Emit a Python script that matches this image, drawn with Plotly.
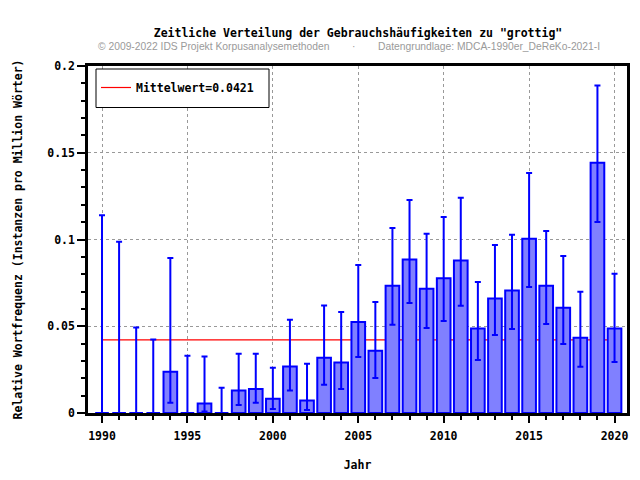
import plotly.graph_objects as go

years = list(range(1990, 2021))
freq = [0, 0, 0, 0, 0.0238, 0, 0.0055, 0, 0.0129, 0.0139, 0.0082, 0.0268, 0.0072,
        0.0319, 0.0291, 0.0525, 0.0359, 0.0733, 0.0885, 0.0716, 0.0777, 0.0879,
        0.0487, 0.0660, 0.0706, 0.1005, 0.0734, 0.0607, 0.0434, 0.1443, 0.0487]
upper = [0.1140, 0.0987, 0.0493, 0.0423, 0.0894, 0.0330, 0.0325, 0.0146, 0.0342,
         0.0342, 0.0261, 0.0537, 0.0284, 0.0619, 0.0582, 0.0853, 0.0640, 0.1066,
         0.1228, 0.1033, 0.1130, 0.1240, 0.0755, 0.0968, 0.1028, 0.1383, 0.1049,
         0.0905, 0.0699, 0.1887, 0.0803]
lower = [0, 0, 0, 0, 0.0059, 0, 0.0008, 0, 0.0046, 0.0059, 0.0023, 0.0129, 0.0018,
         0.0163, 0.0138, 0.0323, 0.0202, 0.0508, 0.0634, 0.0490, 0.0530, 0.0618,
         0.0305, 0.0450, 0.0484, 0.0726, 0.0513, 0.0398, 0.0267, 0.1101, 0.0294]
mean_value = 0.0421
x_ticks = [1990, 1995, 2000, 2005, 2010, 2015, 2020]
y_ticks = [0, 0.05, 0.1, 0.15, 0.2]
y_tick_labels = ["0", "0.05", "0.1", "0.15", "0.2"]

title_text = 'Zeitliche Verteilung der Gebrauchshäufigkeiten zu "grottig"'
sub_left = "© 2009-2022 IDS Projekt Korpusanalysemethoden"
sub_mid = "·"
sub_right = "Datengrundlage: MDCA-1990er_DeReKo-2021-I"

MONO = "DejaVu Sans Mono"
FS = 11.5
SUB_FONT = dict(family="Liberation Sans", size=10.3, color="#9a9a9a")

# plot area geometry (pixels)
L, R, T, B = 88, 13, 66, 67
PW, PH = 640 - L - R, 480 - T - B


def px(xp):
    return (xp - L) / PW


def py(yp):
    return (480 - B - yp) / PH


err_plus = [u - f for u, f in zip(upper, freq)]
err_minus = [f - l for f, l in zip(freq, lower)]

fig = go.Figure()
fig.add_trace(go.Bar(
    x=years, y=freq, width=0.8,
    marker=dict(color="#8080ff", line=dict(color="#0000ff", width=2)),
    error_y=dict(type="data", symmetric=False, array=err_plus, arrayminus=err_minus,
                 color="#0000ff", thickness=2, width=3),
    showlegend=False,
))

fig.add_shape(type="line", x0=years[0], x1=years[-1], y0=mean_value, y1=mean_value,
              xref="x", yref="y", layer="below",
              line=dict(color="#ff0000", width=1.2),
              showlegend=True, name="<b>Mittelwert=%.4f</b>" % mean_value)

# legend frame
fig.add_shape(type="rect", xref="paper", yref="paper",
              x0=px(96), x1=px(269), y0=py(107.5), y1=py(69),
              line=dict(color="black", width=1), fillcolor="white", layer="above")

fig.update_layout(
    width=640, height=480,
    margin=dict(l=L, r=R, t=T, b=B),
    paper_bgcolor="white", plot_bgcolor="white",
    font=dict(family=MONO, size=FS, color="black"),
    showlegend=True,
    legend=dict(x=px(96), y=py(87.5), xanchor="left", yanchor="middle",
                borderwidth=0, bgcolor="rgba(0,0,0,0)",
                font=dict(family=MONO, size=FS, color="black")),
    title=dict(text="<b>" + title_text + "</b>", x=358 / 640,
               xanchor="center", y=1 - 33 / 480, yanchor="middle",
               font=dict(family=MONO, size=FS)),
)

fig.add_annotation(text=sub_left, xref="paper", yref="paper", x=px(96), y=py(47),
                   xanchor="left", yanchor="middle", showarrow=False, font=SUB_FONT)
fig.add_annotation(text=sub_mid, xref="paper", yref="paper", x=px(353), y=py(47),
                   xanchor="center", yanchor="middle", showarrow=False, font=SUB_FONT)
fig.add_annotation(text=sub_right, xref="paper", yref="paper", x=px(376), y=py(47),
                   xanchor="left", yanchor="middle", showarrow=False, font=SUB_FONT)

fig.update_xaxes(
    range=[1989.18, 2020.73],
    tickvals=x_ticks, ticktext=["<b>%d</b>" % v for v in x_ticks],
    ticks="outside", ticklen=7, tickwidth=2, tickcolor="black",
    ticklabelstandoff=3,
    minor=dict(dtick=1, tick0=1990, ticks="outside", ticklen=4, tickwidth=2,
               tickcolor="black", showgrid=False),
    showline=True, linecolor="black", linewidth=2.5, mirror=True,
    showgrid=True, gridcolor="#999999", griddash="dot", gridwidth=1,
    zeroline=False, automargin=False,
    title=dict(text="<b>Jahr</b>", standoff=20, font=dict(family=MONO, size=FS)),
)
fig.update_yaxes(
    range=[0, 0.2],
    tickvals=y_ticks, ticktext=["<b>%s</b>" % t for t in y_tick_labels],
    ticks="outside", ticklen=8, tickwidth=2, tickcolor="black",
    minor=dict(dtick=0.01, tick0=0, ticks="outside", ticklen=4, tickwidth=2,
               tickcolor="black", showgrid=False),
    showline=True, linecolor="black", linewidth=2.5, mirror=True,
    showgrid=True, gridcolor="#999999", griddash="dot", gridwidth=1,
    zeroline=False, automargin=False,
    title=dict(text="<b>Relative Wortfrequenz (Instanzen pro Million Wörter)</b>",
               standoff=23, font=dict(family=MONO, size=FS)),
)

fig.write_html("out.html", config={"displayModeBar": False},
               post_script="document.body.style.margin='0';document.body.style.overflow='hidden';")
